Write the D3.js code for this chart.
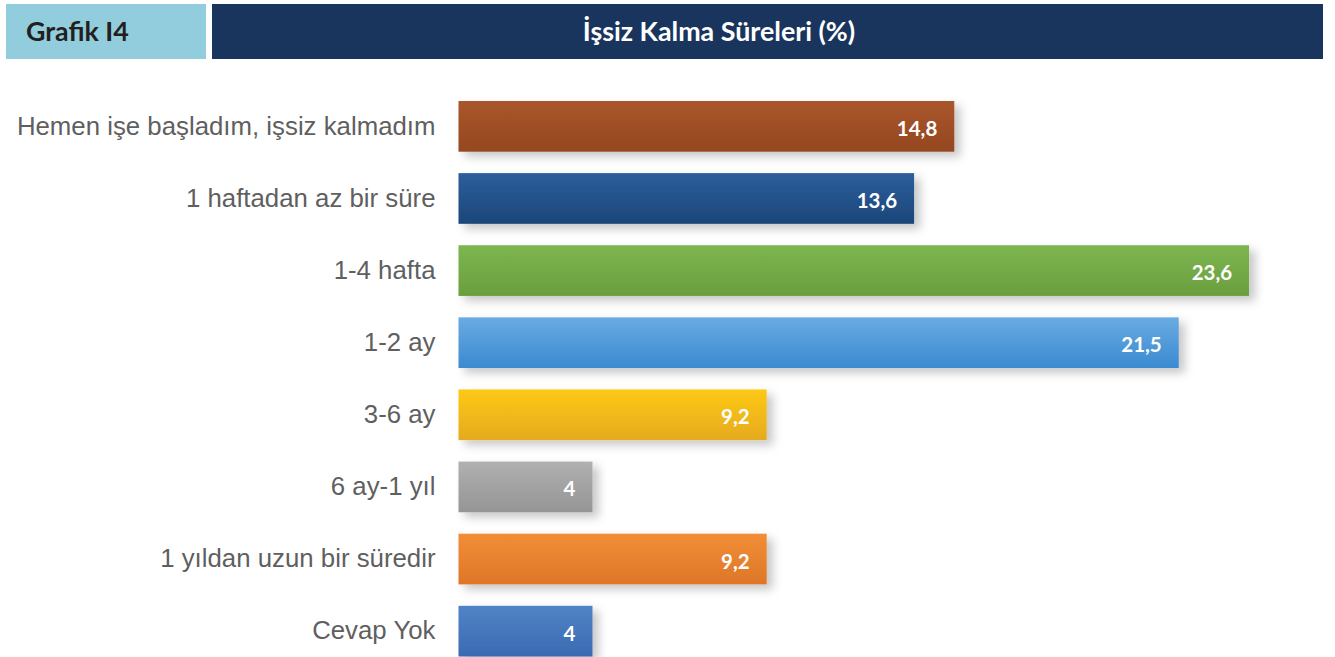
<!DOCTYPE html>
<html>
<head>
<meta charset="utf-8">
<script src="https://cdn.jsdelivr.net/npm/d3@7"></script>
<style>
    body { margin: 0; background: #fff; }
</style>
</head>
<body>
<div id="chart"></div>
<script>
// data
const categories = [
    "Hemen işe başladım, işsiz kalmadım",
    "1 haftadan az bir süre",
    "1-4 hafta",
    "1-2 ay",
    "3-6 ay",
    "6 ay-1 yıl",
    "1 yıldan uzun bir süredir",
    "Cevap Yok"
];
const values = [14.8, 13.6, 23.6, 21.5, 9.2, 4, 9.2, 4];
const valueLabels = ["14,8", "13,6", "23,6", "21,5", "9,2", "4", "9,2", "4"];
// top / bottom colour of every bar gradient
const topColors = ["#AA562B", "#2C5E9C", "#7DB650", "#6AABE2", "#FDC914", "#B0B0B0", "#F28E36", "#5183C6"];
const bottomColors = ["#944720", "#1C4679", "#6A9E3E", "#3A8AD1", "#E6AA20", "#959595", "#DE7628", "#3A6AB2"];

const chartTag = "Grafik I4";
const chartTitle = "İşsiz Kalma Süreleri (%)";

const width = 1335,
    height = 657;
const plot = { left: 458.5, top: 101, bottom: 656.5 };

const svg = d3.select("#chart")
    .append("svg")
    .attr("width", width)
    .attr("height", height);

const defs = svg.append("defs");

// soft shadow under the bars
const shadow = defs.append("filter")
    .attr("id", "shadow")
    .attr("x", "-5%").attr("y", "-30%")
    .attr("width", "115%").attr("height", "180%");
shadow.append("feDropShadow")
    .attr("dx", 6)
    .attr("dy", 5)
    .attr("stdDeviation", 5)
    .attr("flood-color", "#000")
    .attr("flood-opacity", 0.22);

categories.forEach((c, i) => {
    const g = defs.append("linearGradient")
        .attr("id", "grad" + i)
        .attr("x1", 0).attr("y1", 0)
        .attr("x2", 0).attr("y2", 1);
    g.append("stop").attr("offset", "0%").attr("stop-color", topColors[i]);
    g.append("stop").attr("offset", "100%").attr("stop-color", bottomColors[i]);
});

// header boxes
svg.append("rect")
    .attr("x", 6).attr("y", 4)
    .attr("width", 200).attr("height", 55)
    .attr("fill", "#92CDDD");
svg.append("text")
    .text(chartTag)
    .attr("x", 26)
    .attr("y", 41)
    .attr("font-family", "Lato, sans-serif")
    .attr("font-weight", "bold")
    .attr("font-size", 26.8)
    .attr("fill", "#231F20");

svg.append("rect")
    .attr("x", 212).attr("y", 4)
    .attr("width", 1111).attr("height", 55)
    .attr("fill", "#1A355D");
svg.append("text")
    .text(chartTitle)
    .attr("x", 719)
    .attr("y", 41)
    .attr("text-anchor", "middle")
    .attr("font-family", "Lato, sans-serif")
    .attr("font-weight", "bold")
    .attr("font-size", 26.8)
    .attr("fill", "#fff");

// scales
const xScale = d3.scaleLinear()
    .domain([0, 24])
    .range([plot.left, plot.left + 24 * 33.5]);

const yScale = d3.scaleBand()
    .domain(categories)
    .range([plot.top, plot.bottom])
    .paddingInner(0.297)
    .paddingOuter(0);

// category labels
const yAxis = svg.append("g")
    .attr("transform", "translate(" + (plot.left + 22) + ",0)")
    .call(d3.axisLeft(yScale).tickSize(0).tickPadding(45));
yAxis.select(".domain").remove();
yAxis.selectAll("text")
    .attr("font-family", "'Liberation Sans', Arial, sans-serif")
    .attr("font-size", 25.8)
    .attr("fill", "#5F5F5F");

// bars
svg.append("g")
    .selectAll("rect")
    .data(values)
    .enter()
    .append("rect")
    .attr("x", xScale(0))
    .attr("y", (d, i) => yScale(categories[i]))
    .attr("width", d => xScale(d) - xScale(0))
    .attr("height", yScale.bandwidth())
    .attr("fill", (d, i) => "url(#grad" + i + ")")
    .attr("filter", "url(#shadow)");

// value labels inside bar ends
svg.append("g")
    .selectAll("text")
    .data(values)
    .enter()
    .append("text")
    .text((d, i) => valueLabels[i])
    .attr("x", d => xScale(d) - 17)
    .attr("y", (d, i) => yScale(categories[i]) + yScale.bandwidth() / 2 + 9.5)
    .attr("text-anchor", "end")
    .attr("font-family", "Lato, sans-serif")
    .attr("font-weight", "bold")
    .attr("font-size", 20.5)
    .attr("fill", "#fff");
</script>
</body>
</html>
